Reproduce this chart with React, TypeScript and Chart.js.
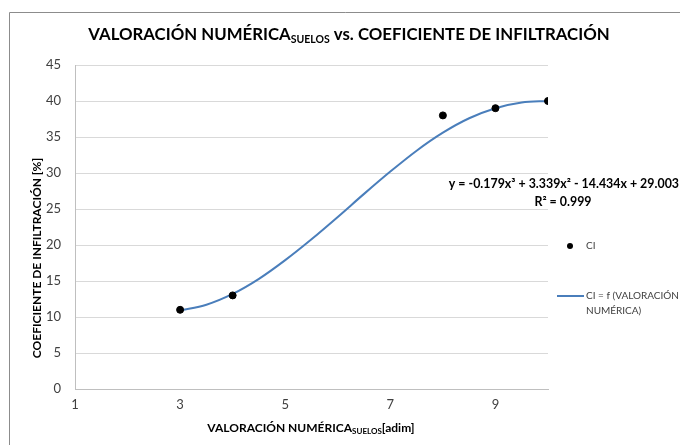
import React, { useEffect, useRef } from "react";
import { Chart, registerables } from "chart.js";

Chart.register(...registerables);

const pointX = [3, 4, 8, 9, 10];
const pointY = [11, 13, 38, 39, 40];
const curveX = [3, 3.5, 4, 4.5, 5, 5.5, 6, 6.5, 7, 7.5, 8, 8.5, 9, 9.5, 10];
const curveY = [10.9, 11.7, 13.2, 15.3, 17.9, 20.8, 23.9, 27.1, 30.2, 33.1, 35.6, 37.6, 39.0, 39.8, 40.0];
const xTicks = [1, 3, 5, 7, 9];
const yTicks = [0, 5, 10, 15, 20, 25, 30, 35, 40, 45];

const FONT = "Lato, 'Open Sans', sans-serif";

function drawSubText(
  ctx: CanvasRenderingContext2D,
  parts: { t: string; sub?: boolean }[],
  cx: number,
  cy: number,
  size: number,
  subSize: number
) {
  ctx.save();
  ctx.textBaseline = "middle";
  ctx.textAlign = "left";
  let total = 0;
  const widths = parts.map((p) => {
    ctx.font = `bold ${p.sub ? subSize : size}px ${FONT}`;
    const w = ctx.measureText(p.t).width;
    total += w;
    return w;
  });
  let x = cx - total / 2;
  parts.forEach((p, i) => {
    ctx.font = `bold ${p.sub ? subSize : size}px ${FONT}`;
    ctx.fillText(p.t, x, p.sub ? cy + size * 0.3 : cy);
    x += widths[i];
  });
  ctx.restore();
}

const overlay = {
  id: "overlay",
  beforeDraw(chart: any) {
    const ctx = chart.ctx as CanvasRenderingContext2D;
    ctx.save();
    ctx.fillStyle = "#ffffff";
    ctx.fillRect(0, 0, chart.width, chart.height);
    ctx.strokeStyle = "#8c8c8c";
    ctx.lineWidth = 1;
    ctx.beginPath();
    ctx.moveTo(9.5, chart.height + 2);
    ctx.lineTo(9.5, 12.5);
    ctx.lineTo(chart.width + 2, 12.5);
    ctx.stroke();
    ctx.restore();
  },
  afterDraw(chart: any) {
    const ctx = chart.ctx as CanvasRenderingContext2D;
    ctx.fillStyle = "#000000";
    drawSubText(
      ctx,
      [{ t: "VALORACIÓN NUMÉRICA" }, { t: "SUELOS", sub: true }, { t: " vs. COEFICIENTE DE INFILTRACIÓN" }],
      349,
      35,
      16.8,
      10.5
    );
    drawSubText(
      ctx,
      [{ t: "VALORACIÓN NUMÉRICA" }, { t: "SUELOS", sub: true }, { t: "[adim]" }],
      311,
      428,
      12,
      8
    );
    ctx.save();
    ctx.translate(37, 258);
    ctx.rotate(-Math.PI / 2);
    drawSubText(ctx, [{ t: "COEFICIENTE DE INFILTRACIÓN [%]" }], 0, 0, 12, 8);
    ctx.restore();

    // trendline label
    ctx.save();
    ctx.fillStyle = "#000";
    ctx.font = `bold 12.4px ${FONT}`;
    ctx.textBaseline = "middle";
    ctx.textAlign = "right";
    ctx.fillText("y = -0.179x³ + 3.339x² - 14.434x + 29.003", 679, 184);
    ctx.textAlign = "center";
    ctx.fillText("R² = 0.999", 563, 202);
    ctx.restore();

    // legend
    ctx.save();
    ctx.fillStyle = "#000";
    ctx.beginPath();
    ctx.arc(570, 246, 3, 0, Math.PI * 2);
    ctx.fill();
    ctx.strokeStyle = "#4a7ebb";
    ctx.lineWidth = 2;
    ctx.beginPath();
    ctx.moveTo(557, 296);
    ctx.lineTo(584, 296);
    ctx.stroke();
    ctx.fillStyle = "#404040";
    ctx.font = `10px ${FONT}`;
    ctx.textBaseline = "middle";
    ctx.textAlign = "left";
    ctx.fillText("CI", 586, 246);
    ctx.fillText("CI = f (VALORACIÓN", 586, 296);
    ctx.fillText("NUMÉRICA)", 586, 311);
    ctx.restore();
  },
};

export default function App() {
  const ref = useRef<HTMLCanvasElement | null>(null);
  useEffect(() => {
    if (!ref.current) return;
    const chart = new Chart(ref.current, {
      type: "scatter",
      data: {
        datasets: [
          {
            label: "CI = f (VALORACIÓN NUMÉRICA)",
            data: curveX.map((x, i) => ({ x, y: curveY[i] })),
            showLine: true,
            borderColor: "#4a7ebb",
            borderWidth: 2,
            pointRadius: 0,
            cubicInterpolationMode: "monotone",
            order: 2,
          } as any,
          {
            label: "CI",
            data: pointX.map((x, i) => ({ x, y: pointY[i] })),
            backgroundColor: "#000000",
            borderColor: "#000000",
            pointRadius: 3.5,
            order: 1,
          },
        ],
      },
      options: {
        animation: false,
        responsive: false,
        layout: { padding: { left: 35, right: 132, top: 65, bottom: 26 } },
        plugins: { legend: { display: false }, tooltip: { enabled: false }, title: { display: false } },
        scales: {
          x: {
            type: "linear",
            min: 1,
            max: 10,
            afterBuildTicks: (s: any) => {
              s.ticks = xTicks.map((v) => ({ value: v }));
            },
            afterFit: (s: any) => {
              s.height = 30;
            },
            grid: { display: false, drawTicks: false },
            border: { color: "#bfbfbf" },
            ticks: { color: "#404040", font: { family: FONT, size: 13 }, padding: 8, maxRotation: 0 },
          },
          y: {
            min: 0,
            max: 45,
            afterBuildTicks: (s: any) => {
              s.ticks = yTicks.map((v) => ({ value: v }));
            },
            afterFit: (s: any) => {
              s.width = 40;
            },
            grid: { color: "#d9d9d9", drawTicks: false },
            border: { color: "#bfbfbf" },
            ticks: { color: "#404040", font: { family: FONT, size: 13 }, padding: 14 },
          },
        },
      },
      plugins: [overlay],
    });
    return () => chart.destroy();
  }, []);
  return (
    <div style={{ position: "fixed", left: 0, top: 0, width: 680, height: 445 }}>
      <canvas ref={ref} width={680} height={445} style={{ width: 680, height: 445, display: "block" }} />
    </div>
  );
}
